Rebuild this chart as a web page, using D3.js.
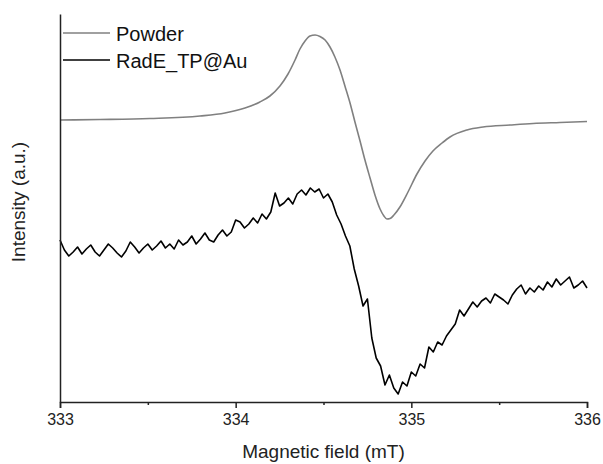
<!DOCTYPE html>
<html>
<head>
<meta charset="utf-8">
<script src="https://cdn.jsdelivr.net/npm/d3@7"></script>
<style>
  html, body { margin: 0; padding: 0; background: #fff; }
  svg { display: block; font-family: Arial, "Liberation Sans", sans-serif; }
</style>
</head>
<body>
<svg id="chart" width="603" height="464"></svg>
<script>
// ---- data ----
const xTicks = [333, 334, 335, 336];
const xMinorTicks = [333.5, 334.5, 335.5];
const seriesNames = ["Powder", "RadE_TP@Au"];
const seriesColors = ["#808080", "#000000"];

// Powder spectrum (field mT, intensity a.u.)
const powderField = [333.000, 333.228, 333.512, 333.797, 333.939, 334.053, 334.138, 334.195,
  334.252, 334.298, 334.338, 334.366, 334.395, 334.423, 334.452, 334.480, 334.509, 334.537,
  334.565, 334.594, 334.622, 334.651, 334.679, 334.708, 334.736, 334.765, 334.793, 334.822,
  334.844, 334.861, 334.879, 334.901, 334.935, 334.981, 335.032, 335.078, 335.123, 335.175,
  335.220, 335.317, 335.408, 335.562, 335.693, 335.846, 336.000];
const powderIntensity = [282, 282.5, 283.5, 286, 289, 294, 300, 306,
  316, 328, 342, 353, 361, 366, 367, 365.5, 362, 355,
  345, 332, 316, 299, 280, 261, 242, 224, 207, 193,
  186, 183, 183.5, 187, 195, 210, 228, 241, 251, 259,
  265, 272, 275, 277, 278.5, 279.5, 280.5];

// RadE_TP@Au spectrum (field mT, intensity a.u.)
const radField = [333.000, 333.025, 333.050, 333.075, 333.100, 333.125, 333.150, 333.175, 333.200, 333.225,
  333.250, 333.275, 333.300, 333.325, 333.350, 333.375, 333.400, 333.425, 333.450, 333.475,
  333.500, 333.525, 333.550, 333.575, 333.600, 333.625, 333.650, 333.675, 333.700, 333.725,
  333.750, 333.775, 333.800, 333.825, 333.850, 333.875, 333.900, 333.925, 333.950, 333.975,
  334.000, 334.025, 334.050, 334.075, 334.100, 334.125, 334.150, 334.175, 334.200, 334.225,
  334.250, 334.275, 334.300, 334.325, 334.350, 334.375, 334.400, 334.425, 334.450, 334.475,
  334.500, 334.525, 334.550, 334.575, 334.600, 334.625, 334.650, 334.675, 334.700, 334.725,
  334.750, 334.775, 334.800, 334.825, 334.850, 334.875, 334.900, 334.925, 334.950, 334.975,
  335.000, 335.025, 335.050, 335.075, 335.100, 335.125, 335.150, 335.175, 335.200, 335.225,
  335.250, 335.275, 335.300, 335.325, 335.350, 335.375, 335.400, 335.425, 335.450, 335.475,
  335.500, 335.525, 335.550, 335.575, 335.600, 335.625, 335.650, 335.675, 335.700, 335.725,
  335.750, 335.775, 335.800, 335.825, 335.850, 335.875, 335.900, 335.925, 335.950, 335.975,
  336.000];
const radIntensity = [162, 152, 146, 150, 155, 148, 153, 157, 150, 146,
  152, 158, 154, 149, 145, 151, 160, 155, 149, 154,
  158, 152, 156, 161, 154, 158, 153, 162, 157, 160,
  166, 158, 163, 169, 162, 160, 167, 172, 166, 170,
  182, 180, 174, 178, 184, 179, 188, 183, 190, 209,
  196, 199, 204, 198, 208, 212, 207, 214, 210, 213,
  204, 208, 200, 187, 178, 166, 156, 133, 116, 96,
  103, 64, 44, 36, 17, 27, 14, 8, 20, 16,
  30, 26, 38, 34, 55, 50, 60, 57, 66, 72,
  78, 92, 86, 93, 100, 95, 101, 104, 99, 108,
  105, 102, 98, 107, 113, 117, 108, 114, 110, 116,
  112, 120, 115, 123, 117, 121, 125, 114, 117, 121,
  114];

// ---- chart ----
const svg = d3.select("#chart");
const x = d3.scaleLinear().domain([333, 336]).range([60, 587]);
const y = d3.scaleLinear().domain([0, 388]).range([402, 14]);

const powderData = powderField.map((f, i) => [f, powderIntensity[i]]);
const radData = radField.map((f, i) => [f, radIntensity[i]]);

svg.append("path")
  .datum(powderData)
  .attr("fill", "none")
  .attr("stroke", seriesColors[0])
  .attr("stroke-width", 1.6)
  .attr("d", d3.line().x(d => x(d[0])).y(d => y(d[1])).curve(d3.curveMonotoneX));

svg.append("path")
  .datum(radData)
  .attr("fill", "none")
  .attr("stroke", seriesColors[1])
  .attr("stroke-width", 1.6)
  .attr("stroke-linejoin", "round")
  .attr("d", d3.line().x(d => x(d[0])).y(d => y(d[1])));

// x axis
const xAxis = d3.axisBottom(x).tickValues(xTicks).tickFormat(d3.format("d")).tickSize(6).tickPadding(6);
const gx = svg.append("g").attr("transform", "translate(0,402)").call(xAxis);
gx.select(".domain").attr("stroke", "#222").attr("stroke-width", 1.5);
gx.selectAll(".tick line").attr("stroke", "#222").attr("stroke-width", 1.5);
gx.selectAll(".tick text").attr("font-size", 16).attr("fill", "#222")
  .attr("font-family", "Arial, 'Liberation Sans', sans-serif");

const gxm = svg.append("g").attr("transform", "translate(0,402)")
  .call(d3.axisBottom(x).tickValues(xMinorTicks).tickSize(3).tickFormat(""));
gxm.select(".domain").remove();
gxm.selectAll(".tick line").attr("stroke", "#222").attr("stroke-width", 1.5);

// y axis (line only)
const gy = svg.append("g").attr("transform", "translate(60,0)")
  .call(d3.axisLeft(y).tickValues([]).tickSizeOuter(0));
gy.select(".domain").attr("stroke", "#222").attr("stroke-width", 1.5);

// axis titles
svg.append("text")
  .attr("x", 323.5).attr("y", 458)
  .attr("text-anchor", "middle")
  .attr("font-size", 19).attr("fill", "#222")
  .text("Magnetic field (mT)");

svg.append("text")
  .attr("transform", "translate(25,202) rotate(-90)")
  .attr("text-anchor", "middle")
  .attr("font-size", 19).attr("fill", "#222")
  .text("Intensity (a.u.)");

// legend
const legendY = [33, 60];
seriesNames.forEach((name, i) => {
  svg.append("line")
    .attr("x1", 63).attr("x2", 110)
    .attr("y1", legendY[i]).attr("y2", legendY[i])
    .attr("stroke", seriesColors[i]).attr("stroke-width", 1.6);
  svg.append("text")
    .attr("x", 116).attr("y", legendY[i] + 8)
    .attr("font-size", 20).attr("fill", "#111")
    .text(name);
});
</script>
</body>
</html>
